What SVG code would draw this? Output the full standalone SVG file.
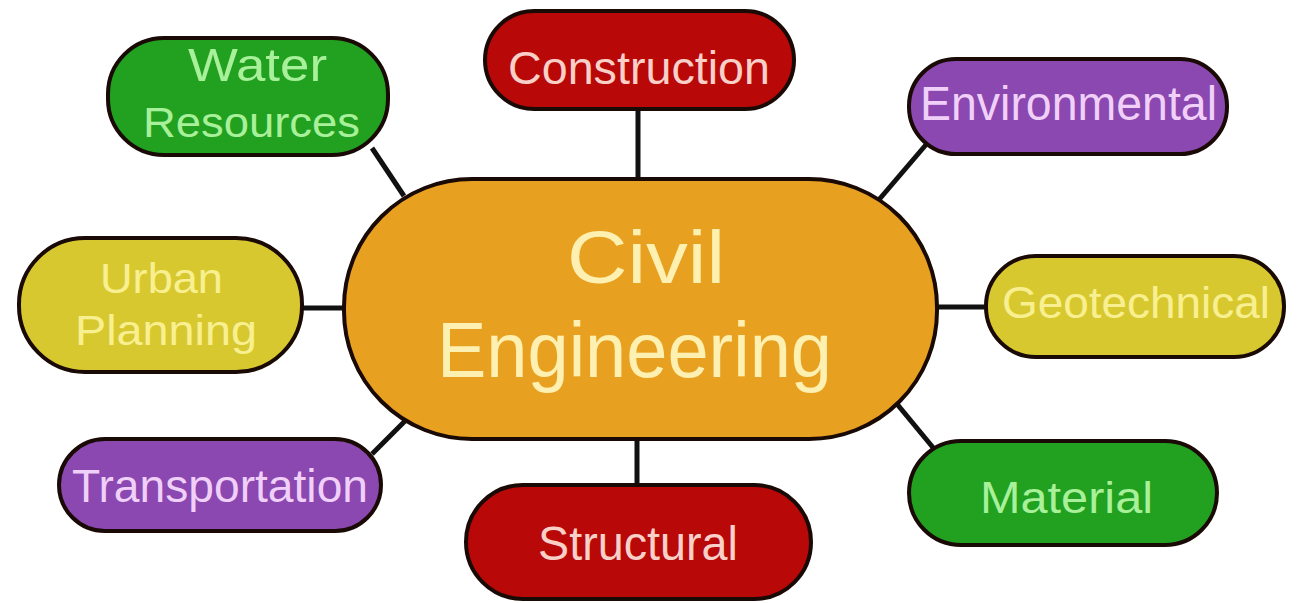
<svg xmlns="http://www.w3.org/2000/svg" width="1302" height="603" viewBox="0 0 1302 603">
<style>
.box{stroke:#1a0a05;stroke-width:4}
.t{font-family:"Liberation Sans",Arial,sans-serif}
.c{stroke:#111;stroke-width:5;fill:none}
.g{fill:#a8f09a}.r{fill:#f8d0c8}.p{fill:#f0d0f8}.y{fill:#f8f090}.o{fill:#fdf0b0}
</style>
<rect width="1302" height="603" fill="#ffffff"/>
<g id="connectors">
<line class="c" x1="372" y1="148" x2="404" y2="196"/>
<line class="c" x1="638" y1="108" x2="638" y2="180"/>
<line class="c" x1="930" y1="140" x2="877" y2="202"/>
<line class="c" x1="300" y1="308" x2="346" y2="308"/>
<line class="c" x1="935" y1="307" x2="987" y2="307"/>
<line class="c" x1="372" y1="454" x2="406" y2="420"/>
<line class="c" x1="637" y1="438" x2="637" y2="486"/>
<line class="c" x1="897" y1="404" x2="940" y2="456"/>
</g>
<g id="water">
<rect class="box" x="108" y="38" width="280" height="117" rx="56" fill="#22a020"/>
<text class="t g" x="188" y="81" font-size="46" textLength="139" lengthAdjust="spacingAndGlyphs">Water</text>
<text class="t g" x="143" y="137" font-size="42" textLength="217" lengthAdjust="spacingAndGlyphs">Resources</text>
</g>
<g id="construction">
<rect class="box" x="485" y="11" width="309" height="98" rx="49" fill="#b80808"/>
<text class="t r" x="508" y="84" font-size="46" textLength="262" lengthAdjust="spacingAndGlyphs">Construction</text>
</g>
<g id="environmental">
<rect class="box" x="909" y="59" width="318" height="95" rx="47" fill="#8a48b0"/>
<text class="t p" x="920" y="120" font-size="48" textLength="297" lengthAdjust="spacingAndGlyphs">Environmental</text>
</g>
<g id="urban">
<rect class="box" x="19" y="238" width="283" height="134" rx="66" fill="#d8c830"/>
<text class="t y" x="100" y="293" font-size="42" textLength="123" lengthAdjust="spacingAndGlyphs">Urban</text>
<text class="t y" x="75" y="345" font-size="42" textLength="182" lengthAdjust="spacingAndGlyphs">Planning</text>
</g>
<g id="center">
<rect class="box" x="344" y="179" width="593" height="260" rx="128" fill="#e8a020"/>
<text class="t o" x="567" y="283" font-size="74" textLength="158" lengthAdjust="spacingAndGlyphs">Civil</text>
<text class="t o" x="437" y="377" font-size="77" textLength="395" lengthAdjust="spacingAndGlyphs">Engineering</text>
</g>
<g id="geotechnical">
<rect class="box" x="986" y="256" width="298" height="101" rx="50" fill="#d8c830"/>
<text class="t y" x="1002" y="318" font-size="45" textLength="268" lengthAdjust="spacingAndGlyphs">Geotechnical</text>
</g>
<g id="transportation">
<rect class="box" x="59" y="439" width="322" height="92" rx="46" fill="#8a48b0"/>
<text class="t p" x="72" y="502" font-size="47" textLength="296" lengthAdjust="spacingAndGlyphs">Transportation</text>
</g>
<g id="structural">
<rect class="box" x="466" y="485" width="345" height="114" rx="57" fill="#b80808"/>
<text class="t r" x="538" y="560" font-size="48" textLength="200" lengthAdjust="spacingAndGlyphs">Structural</text>
</g>
<g id="material">
<rect class="box" x="909" y="441" width="308" height="104" rx="52" fill="#22a020"/>
<text class="t g" x="980" y="513" font-size="44" textLength="173" lengthAdjust="spacingAndGlyphs">Material</text>
</g>
</svg>
